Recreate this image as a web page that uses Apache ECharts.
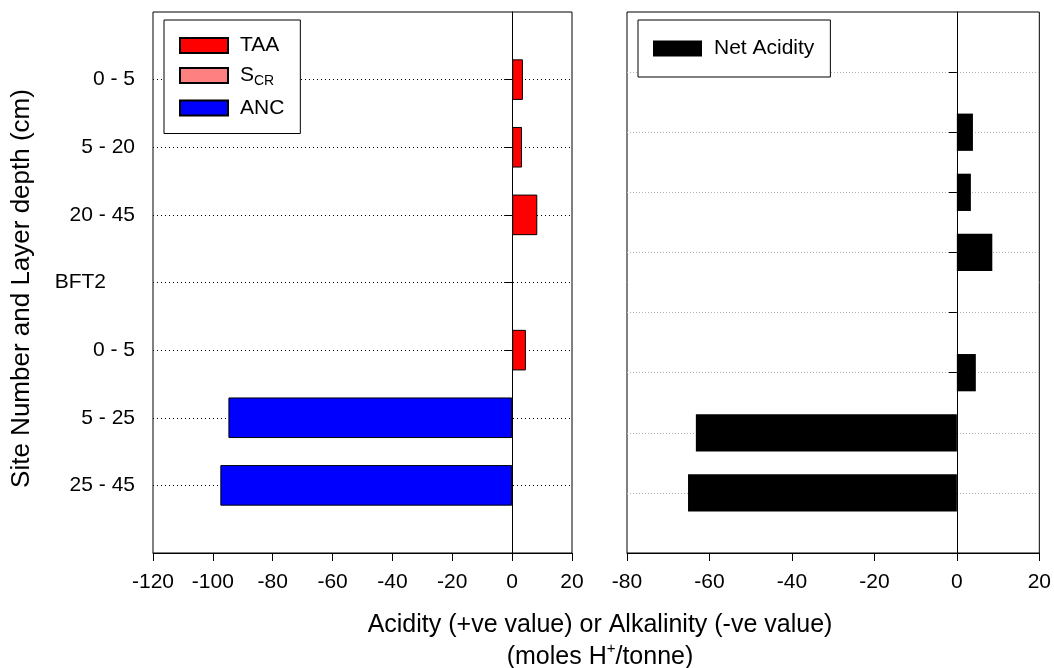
<!DOCTYPE html>
<html>
<head>
<meta charset="utf-8">
<script src="https://cdn.jsdelivr.net/npm/echarts@6/dist/echarts.min.js"></script>
<style>
  html, body { margin: 0; padding: 0; background: #fff; }
  #chart { width: 1054px; height: 668px; }
</style>
</head>
<body>
<div id="chart"></div>
<script>
// Left panel rows, top to bottom; the blank ends pad the frame
const layerRows = ['', '0 - 5', '5 - 20', '20 - 45', 'BFT2', '0 - 5', '5 - 25', '25 - 45', ''];
const taaValues = [null, 3.6, 3.3, 8.4, null, 4.6, null, null, null];
const scrValues = [null, null, null, null, null, null, null, null, null];
const ancValues = [null, null, null, null, null, null, -94.8, -97.5, null];

// Right panel rows (no labels drawn)
const netRows = ['', '', '0 - 5', '5 - 20', '20 - 45', 'BFT2', '0 - 5', '5 - 25', '25 - 45', ''];
const netValues = [null, null, 3.9, 3.4, 8.6, null, 4.6, -63.3, -65.2, null];

// Value axis ranges
const leftRange = { min: -120, max: 20, step: 20 };
const rightRange = { min: -80, max: 20, step: 20 };

const FONT = 'Liberation Sans, Arial, Helvetica, sans-serif';
const inner = (rows) => (i) => i > 0 && i < rows.length - 1;

const chart = echarts.init(document.getElementById('chart'));

function valueAxis(gridIndex, range) {
  return {
    type: 'value', gridIndex,
    min: range.min, max: range.max, interval: range.step,
    axisLine: { show: true, lineStyle: { color: '#000', width: 1 } },
    axisTick: { show: true, length: 8, lineStyle: { color: '#000', width: 1 } },
    splitLine: { show: false },
    axisLabel: { color: '#000', fontSize: 21, fontFamily: FONT, margin: 19 }
  };
}

const zeroLine = {
  silent: true,
  symbol: ['none', 'none'],
  label: { show: false },
  lineStyle: { color: '#000', type: 'solid', width: 1 },
  data: [{ xAxis: 0 }]
};

chart.setOption({
  animation: false,
  backgroundColor: '#fff',
  textStyle: { fontFamily: FONT, color: '#000' },
  grid: [
    { left: 153, right: 482, top: 12, bottom: 115, show: true, borderColor: '#000', borderWidth: 1 },
    { left: 627, right: 11, top: 12, bottom: 115, show: true, borderColor: '#000', borderWidth: 1 }
  ],
  xAxis: [valueAxis(0, leftRange), valueAxis(1, rightRange)],
  yAxis: [
    {
      type: 'category', gridIndex: 0, data: layerRows, inverse: true, boundaryGap: false,
      axisLine: { show: true, lineStyle: { color: '#000', width: 1 } },
      axisTick: { show: true, length: 8, interval: inner(layerRows), lineStyle: { color: '#000', width: 1 } },
      splitLine: { show: true, interval: inner(layerRows), lineStyle: { color: '#000', width: 1, type: [1, 3] } },
      axisLabel: {
        color: '#000', fontSize: 21, fontFamily: FONT, margin: 18, interval: 0,
        formatter: (v) => (v === 'BFT2' ? '{site|' + v + '}' : v),
        rich: { site: { color: '#000', fontSize: 21, fontFamily: FONT, padding: [0, 29, 0, 0] } }
      },
      name: 'Site Number and Layer depth (cm)',
      nameLocation: 'middle', nameGap: 118, nameRotate: 90,
      nameTextStyle: { color: '#000', fontSize: 26, fontFamily: FONT, padding: [0, 12, 0, 0] }
    },
    {
      type: 'category', gridIndex: 1, data: netRows, inverse: true, boundaryGap: false,
      axisLine: { show: true, lineStyle: { color: '#000', width: 1 } },
      axisTick: { show: true, length: 8, interval: inner(netRows), lineStyle: { color: '#000', width: 1 } },
      splitLine: { show: true, interval: inner(netRows), lineStyle: { color: '#b4b4b4', width: 1, type: [1, 2] } },
      axisLabel: { show: false }
    }
  ],
  legend: [
    {
      data: ['TAA', 'SCR', 'ANC'],
      orient: 'vertical', left: 164, top: 20,
      padding: [15, 16, 15, 15], itemGap: 9, itemWidth: 48, itemHeight: 15,
      backgroundColor: '#fff', borderColor: '#000', borderWidth: 1, borderRadius: 0,
      icon: 'rect', selectedMode: false,
      formatter: (name) => (name === 'SCR' ? 'S{sub|CR}' : name),
      textStyle: {
        color: '#000', fontSize: 21, fontFamily: FONT, padding: [0, 0, 0, 7],
        rich: { sub: { color: '#000', fontSize: 14, fontFamily: FONT, verticalAlign: 'bottom', padding: [12, 0, 0, 0] } }
      }
    },
    {
      data: ['Net Acidity'],
      orient: 'vertical', left: 638, top: 20,
      padding: [18, 16, 18, 15], itemWidth: 49, itemHeight: 16,
      backgroundColor: '#fff', borderColor: '#000', borderWidth: 1, borderRadius: 0,
      icon: 'rect', selectedMode: false,
      textStyle: { color: '#000', fontSize: 21, fontFamily: FONT, padding: [0, 0, 0, 7] }
    }
  ],
  series: [
    {
      name: 'TAA', type: 'bar', xAxisIndex: 0, yAxisIndex: 0, stack: 'left', barWidth: '60%',
      data: taaValues,
      itemStyle: { color: '#ff0000', borderColor: '#000', borderWidth: 1 },
      markLine: zeroLine
    },
    {
      name: 'SCR', type: 'bar', xAxisIndex: 0, yAxisIndex: 0, stack: 'left', barWidth: '60%',
      data: scrValues,
      itemStyle: { color: '#ff8080', borderColor: '#000', borderWidth: 1 }
    },
    {
      name: 'ANC', type: 'bar', xAxisIndex: 0, yAxisIndex: 0, stack: 'left', barWidth: '60%',
      data: ancValues,
      itemStyle: { color: '#0000ff', borderColor: '#000', borderWidth: 1 }
    },
    {
      name: 'Net Acidity', type: 'bar', xAxisIndex: 1, yAxisIndex: 1, barWidth: '62%',
      data: netValues,
      itemStyle: { color: '#000' },
      markLine: zeroLine
    }
  ],
  graphic: [
    {
      type: 'text', x: 600, y: 609, silent: true,
      style: {
        text: '{t|Acidity (+ve value) or Alkalinity (-ve value)}\n{t|(moles H}{sup|+}{t|/tonne)}',
        textAlign: 'center', textVerticalAlign: 'top',
        rich: {
          t: { fontSize: 25, fontFamily: FONT, fill: '#000', color: '#000', lineHeight: 32 },
          sup: { fontSize: 15, fontFamily: FONT, fill: '#000', color: '#000', lineHeight: 14, verticalAlign: 'top' }
        }
      }
    }
  ]
});
</script>
</body>
</html>
